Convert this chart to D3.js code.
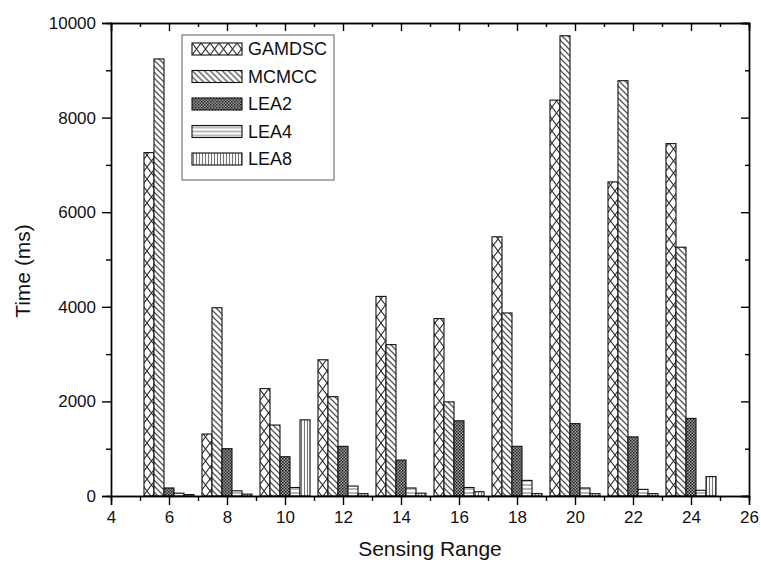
<!DOCTYPE html>
<html>
<head>
<meta charset="utf-8">
<script src="https://cdn.jsdelivr.net/npm/d3@7"></script>
<style>
  body { margin: 0; background: #fff; }
  svg { display: block; font-family: "Liberation Sans", Arial, sans-serif; }
  .axis path, .axis line { stroke: #000; stroke-width: 1.4; }
  .axis text { font-size: 17px; fill: #111; }
</style>
</head>
<body>
<svg width="761" height="565"></svg>
<script>
// sensing range groups
var ranges = [6, 8, 10, 12, 14, 16, 18, 20, 22, 24];
var seriesNames = ["GAMDSC", "MCMCC", "LEA2", "LEA4", "LEA8"];
// time (ms)
var gamdsc = [7260, 1310, 2270, 2880, 4220, 3750, 5480, 8370, 6640, 7450];
var mcmcc  = [9240, 3980, 1500, 2100, 3200, 1990, 3870, 9730, 8780, 5260];
var lea2   = [170, 1000, 830, 1050, 760, 1590, 1050, 1530, 1250, 1640];
var lea4   = [60, 110, 180, 210, 170, 180, 330, 170, 140, 120];
var lea8   = [30, 40, 1610, 50, 60, 90, 50, 50, 50, 410];
var xTicks = [4, 6, 8, 10, 12, 14, 16, 18, 20, 22, 24, 26];
var yTicks = [0, 2000, 4000, 6000, 8000, 10000];

var svg = d3.select("svg"),
    margin = {top: 23, right: 12, bottom: 69, left: 111},
    width = 761 - margin.left - margin.right,
    height = 565 - margin.top - margin.bottom,
    g = svg.append("g").attr("transform", "translate(" + margin.left + "," + margin.top + ")");

var x = d3.scaleLinear().domain([4, 26]).range([0, width]),
    y = d3.scaleLinear().domain([0, 10000]).range([height, 0]);

var barW = 0.345;

// fill patterns
var defs = svg.append("defs");
function pat(id, w, h, bg) {
  var p = defs.append("pattern").attr("id", id)
    .attr("patternUnits", "userSpaceOnUse").attr("width", w).attr("height", h);
  p.append("rect").attr("width", w).attr("height", h).attr("fill", bg);
  return p;
}
var p1 = pat("p-gamdsc", 9, 12, "#fff");
p1.append("path").attr("d", "M0,0L9,12M9,0L0,12").attr("stroke", "#333").attr("stroke-width", 1.1);
var p2 = pat("p-mcmcc", 6, 6, "#fff");
p2.append("path").attr("d", "M-1,-1L7,7M-4,2L2,8M4,-2L8,2").attr("stroke", "#555").attr("stroke-width", 1.3);
var p3 = pat("p-lea2", 3, 3, "#999");
p3.append("rect").attr("width", 1.5).attr("height", 1.5).attr("fill", "#222");
p3.append("rect").attr("x", 1.5).attr("y", 1.5).attr("width", 1.5).attr("height", 1.5).attr("fill", "#333");
var p4 = pat("p-lea4", 4, 4, "#fff");
p4.append("path").attr("d", "M0,2H4").attr("stroke", "#888").attr("stroke-width", 1.2);
var p5 = pat("p-lea8", 3, 3, "#fff");
p5.append("path").attr("d", "M1.5,0V3").attr("stroke", "#777").attr("stroke-width", 1.1);
var fills = ["url(#p-gamdsc)", "url(#p-mcmcc)", "url(#p-lea2)", "url(#p-lea4)", "url(#p-lea8)"];

var data = [gamdsc, mcmcc, lea2, lea4, lea8].map(function(vals, s) {
  return {id: seriesNames[s], idx: s, values: vals.map(function(v, i) { return {r: ranges[i], value: v}; })};
});

// bars
var series = g.selectAll(".series")
  .data(data)
  .enter().append("g")
    .attr("class", "series")
    .attr("fill", function(d) { return fills[d.idx]; });

series.selectAll("rect")
  .data(function(d) { return d.values.map(function(v) { return {r: v.r, value: v.value, idx: d.idx}; }); })
  .enter().append("rect")
    .attr("x", function(d) { return x(d.r + (d.idx - 2.5) * barW); })
    .attr("width", x(4 + barW) - x(4))
    .attr("y", function(d) { return y(d.value); })
    .attr("height", function(d) { return height - y(d.value); })
    .attr("stroke", "#111")
    .attr("stroke-width", 1.1);

// axes: major and minor ticks, mirror axes with inward ticks
var minorX = d3.range(5, 26, 2),
    minorY = d3.range(1000, 10000, 2000);

g.append("g").attr("class", "axis")
    .attr("transform", "translate(0," + height + ")")
    .call(d3.axisBottom(x).tickValues(xTicks).tickSize(9).tickPadding(6).tickFormat(d3.format("d")));
g.append("g").attr("class", "axis")
    .attr("transform", "translate(0," + height + ")")
    .call(d3.axisBottom(x).tickValues(minorX).tickSize(5).tickFormat(""));
g.append("g").attr("class", "axis")
    .call(d3.axisLeft(y).tickValues(yTicks).tickSize(9).tickPadding(6).tickFormat(d3.format("d")));
g.append("g").attr("class", "axis")
    .call(d3.axisLeft(y).tickValues(minorY).tickSize(5).tickFormat(""));
g.append("g").attr("class", "axis")
    .call(d3.axisTop(x).tickValues(xTicks).tickSize(-8).tickFormat(""));
g.append("g").attr("class", "axis")
    .call(d3.axisTop(x).tickValues(minorX).tickSize(-4).tickFormat(""));
g.append("g").attr("class", "axis")
    .attr("transform", "translate(" + width + ",0)")
    .call(d3.axisRight(y).tickValues(yTicks).tickSize(-8).tickFormat(""));
g.append("g").attr("class", "axis")
    .attr("transform", "translate(" + width + ",0)")
    .call(d3.axisRight(y).tickValues(minorY).tickSize(-4).tickFormat(""));
g.selectAll(".axis .domain").attr("stroke-width", 1.6);

// axis titles
g.append("text")
    .attr("x", width / 2)
    .attr("y", height + 60)
    .attr("text-anchor", "middle")
    .style("font-size", "21px")
    .attr("fill", "#111")
    .text("Sensing Range");
g.append("text")
    .attr("transform", "rotate(-90)")
    .attr("x", -248)
    .attr("y", -81)
    .attr("text-anchor", "middle")
    .style("font-size", "21px")
    .attr("fill", "#111")
    .text("Time (ms)");

// legend
var legend = svg.append("g").attr("transform", "translate(182,35)");
legend.append("rect")
    .attr("width", 152).attr("height", 145)
    .attr("fill", "#fff").attr("stroke", "#777").attr("stroke-width", 1.2);
var item = legend.selectAll(".item")
  .data(data)
  .enter().append("g")
    .attr("class", "item")
    .attr("transform", function(d) { return "translate(10," + (8 + d.idx * 27.5) + ")"; });
item.append("rect")
    .attr("width", 50).attr("height", 12)
    .attr("fill", function(d) { return fills[d.idx]; })
    .attr("stroke", "#111").attr("stroke-width", 1.1);
item.append("text")
    .attr("x", 56).attr("y", 6).attr("dy", "0.36em")
    .style("font-size", "18px")
    .attr("fill", "#111")
    .text(function(d) { return d.id; });
</script>
</body>
</html>
